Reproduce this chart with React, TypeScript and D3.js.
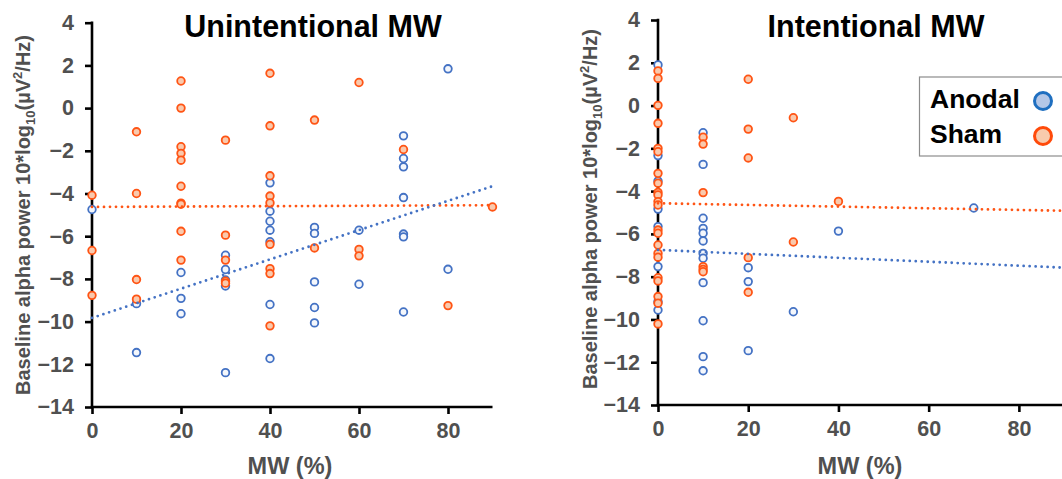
import React, { useEffect, useRef } from "react";
import * as d3 from "d3";

const width = 1062, height = 479;

const yTicks = [4, 2, 0, -2, -4, -6, -8, -10, -12, -14];
const xTicks = [0, 20, 40, 60, 80];

// [MW %, baseline alpha power]
const unintAnodal = [
  [0, -4.75],
  [10, -9.16], [10, -11.45],
  [20, -7.7], [20, -8.91], [20, -9.63],
  [30, -6.89], [30, -7.56], [30, -8.05], [30, -8.33], [30, -12.39],
  [40, -3.5], [40, -4.83], [40, -5.3], [40, -5.72], [40, -6.26], [40, -9.2], [40, -11.73],
  [50, -5.59], [50, -5.87], [50, -8.14], [50, -9.34], [50, -10.06],
  [60, -5.72], [60, -8.25],
  [70, -1.3], [70, -2.36], [70, -2.75], [70, -4.19], [70, -5.9], [70, -6.03], [70, -9.55],
  [80, 1.84], [80, -7.55],
];
const unintSham = [
  [0, -4.08], [0, -6.67], [0, -8.77],
  [10, -1.11], [10, -4.0], [10, -8.03], [10, -8.95],
  [20, 1.27], [20, 0], [20, -1.81], [20, -2.12], [20, -2.44], [20, -3.66], [20, -4.45], [20, -4.5], [20, -5.77], [20, -7.12],
  [30, -1.5], [30, -5.95], [30, -7.12], [30, -8.11], [30, -8.2],
  [40, 1.63], [40, -0.83], [40, -3.17], [40, -4.12], [40, -4.44], [40, -6.38], [40, -7.52], [40, -7.75], [40, -10.2],
  [50, -0.56], [50, -6.55],
  [60, 1.2], [60, -6.62], [60, -6.92],
  [70, -1.94],
  [80, -9.25],
  [90, -4.63],
];
const intAnodal = [
  [0, 1.9], [0, -2.34], [0, -3.53], [0, -4.84], [0, -5.66], [0, -7.53], [0, -9.17], [0, -9.56],
  [10, -1.27], [10, -2.75], [10, -5.27], [10, -5.74], [10, -5.97], [10, -6.33], [10, -6.91], [10, -7.14], [10, -8.28], [10, -10.06], [10, -11.74], [10, -12.4],
  [20, -7.58], [20, -8.23], [20, -11.46],
  [30, -9.64],
  [40, -5.87],
  [70, -4.79],
];
const intSham = [
  [0, 1.62], [0, 1.27], [0, 0.01], [0, -0.83], [0, -2.0], [0, -2.16], [0, -3.17], [0, -3.63], [0, -4.06], [0, -4.18], [0, -4.49], [0, -4.65],
  [0, -5.82], [0, -5.97], [0, -6.52], [0, -6.91], [0, -7.09], [0, -8.05], [0, -8.2], [0, -8.93], [0, -9.24], [0, -10.21],
  [10, -1.48], [10, -1.8], [10, -4.07], [10, -7.53], [10, -7.66], [10, -7.77],
  [20, 1.23], [20, -1.1], [20, -2.45], [20, -7.11], [20, -8.73],
  [30, -0.57], [30, -6.38],
  [40, -4.48],
];

// linear trendline end points
const unintAnodalTrend = [[0, -9.83], [90, -3.66]];
const unintShamTrend = [[0, -4.63], [90, -4.55]];
const intAnodalTrend = [[0, -6.75], [90, -7.58]];
const intShamTrend = [[0, -4.57], [90, -4.92]];

const BLUE = "#4472c4";
const ORANGE = "#ff5414";
const GREY = "#505050";
const FONT = "Liberation Sans, Arial, sans-serif";

const panels = [
  {
    title: "Unintentional MW", titleX: 313, titleY: 37,
    x0: 92, x1: 492.5, top: 22.7, bottom: 407,
    ylabX: 23, ylabY: 215, xlabX: 290,
    anodal: unintAnodal, sham: unintSham,
    anodalTrend: unintAnodalTrend, shamTrend: unintShamTrend,
  },
  {
    title: "Intentional MW", titleX: 876, titleY: 37,
    x0: 658, x1: 1064, top: 20, bottom: 405,
    ylabX: 590, ylabY: 209, xlabX: 860,
    anodal: intAnodal, sham: intSham,
    anodalTrend: intAnodalTrend, shamTrend: intShamTrend,
  },
];

const App = () => {
  const svgRef = useRef(null);

  useEffect(() => {
    const svg = d3.select(svgRef.current);
    svg.selectAll("*").remove();

    panels.forEach((p) => {
      const x = d3.scaleLinear().domain([0, 90]).range([p.x0, p.x1]);
      const y = d3.scaleLinear().domain([-14, 4]).range([p.bottom, p.top]);
      const g = svg.append("g");

      // axes (labels + ticks from d3, spine drawn as plain lines)
      const yAxis = g.append("g")
        .attr("transform", `translate(${p.x0},0)`)
        .call(d3.axisLeft(y).tickValues(yTicks).tickSize(7).tickSizeOuter(0).tickPadding(11));
      const xAxis = g.append("g")
        .attr("transform", `translate(0,${p.bottom})`)
        .call(d3.axisBottom(x).tickValues(xTicks).tickSize(7).tickSizeOuter(0).tickPadding(9));
      [yAxis, xAxis].forEach((a) => {
        a.select(".domain").remove();
        a.selectAll(".tick line").attr("stroke", "#000").attr("stroke-width", 2.6);
        a.selectAll(".tick text")
          .attr("fill", GREY)
          .attr("font-family", FONT)
          .attr("font-weight", "bold")
          .attr("font-size", 21.5);
      });
      g.append("line")
        .attr("x1", x(0)).attr("x2", x(0))
        .attr("y1", y(4) - 1.3).attr("y2", y(-14) + 1.3)
        .attr("stroke", "#000").attr("stroke-width", 2.6);
      g.append("line")
        .attr("x1", x(0) - 1.3).attr("x2", x(90))
        .attr("y1", y(-14)).attr("y2", y(-14))
        .attr("stroke", "#000").attr("stroke-width", 2.6);

      // markers
      const drawPts = (data, stroke, fill) => {
        g.append("g").selectAll("circle").data(data).join("circle")
          .attr("cx", (d) => x(d[0]))
          .attr("cy", (d) => y(d[1]))
          .attr("r", 3.8)
          .attr("fill", fill)
          .attr("stroke", stroke)
          .attr("stroke-width", 1.8);
      };
      drawPts(p.anodal, BLUE, "#f4f7fc");
      drawPts(p.sham, ORANGE, "#f9c9ad");

      // trendlines
      const line = d3.line().x((d) => x(d[0])).y((d) => y(d[1]));
      [[p.shamTrend, ORANGE], [p.anodalTrend, BLUE]].forEach(([t, c]) => {
        g.append("path")
          .attr("d", line(t))
          .attr("fill", "none")
          .attr("stroke", c)
          .attr("stroke-width", 2.8)
          .attr("stroke-linecap", "round")
          .attr("stroke-dasharray", "0 6");
      });

      // titles and labels
      g.append("text")
        .attr("x", p.titleX).attr("y", p.titleY)
        .attr("text-anchor", "middle")
        .attr("font-family", FONT).attr("font-weight", "bold").attr("font-size", 30.5)
        .text(p.title);

      g.append("text")
        .attr("x", p.xlabX).attr("y", 474)
        .attr("text-anchor", "middle")
        .attr("fill", GREY)
        .attr("font-family", FONT).attr("font-weight", "bold").attr("font-size", 23.5)
        .text("MW (%)");

      const yl = g.append("text")
        .attr("transform", `translate(${p.ylabX + 7},${p.ylabY}) rotate(-90)`)
        .attr("text-anchor", "middle")
        .attr("fill", GREY)
        .attr("font-family", FONT).attr("font-weight", "bold").attr("font-size", 20);
      yl.append("tspan").text("Baseline alpha power 10*log");
      yl.append("tspan").attr("font-size", 13).attr("dy", 5).text("10");
      yl.append("tspan").attr("dy", -5).text("(µV");
      yl.append("tspan").attr("font-size", 13).attr("dy", -8).text("2");
      yl.append("tspan").attr("dy", 8).text("/Hz)");
    });

    // legend
    const lg = svg.append("g");
    lg.append("rect")
      .attr("x", 919.5).attr("y", 77).attr("width", 200).attr("height", 79)
      .attr("fill", "#fff").attr("stroke", "#8c8c8c").attr("stroke-width", 1.2);
    const items = [
      { label: "Anodal", stroke: "#1f6fc0", fill: "#b4c7e7", yy: 108, cy: 101 },
      { label: "Sham", stroke: "#ff4a0a", fill: "#f8cbad", yy: 143, cy: 136 },
    ];
    items.forEach((it) => {
      lg.append("text")
        .attr("x", 930).attr("y", it.yy)
        .attr("font-family", FONT).attr("font-weight", "bold").attr("font-size", 26.5)
        .text(it.label);
      lg.append("circle")
        .attr("cx", 1043).attr("cy", it.cy).attr("r", 8.5)
        .attr("fill", it.fill).attr("stroke", it.stroke).attr("stroke-width", 3);
    });
  }, []);

  return (
    <svg ref={svgRef} width={width} height={height}
      style={{ position: "absolute", left: 0, top: 0, background: "#fff" }} />
  );
};

export default App;
